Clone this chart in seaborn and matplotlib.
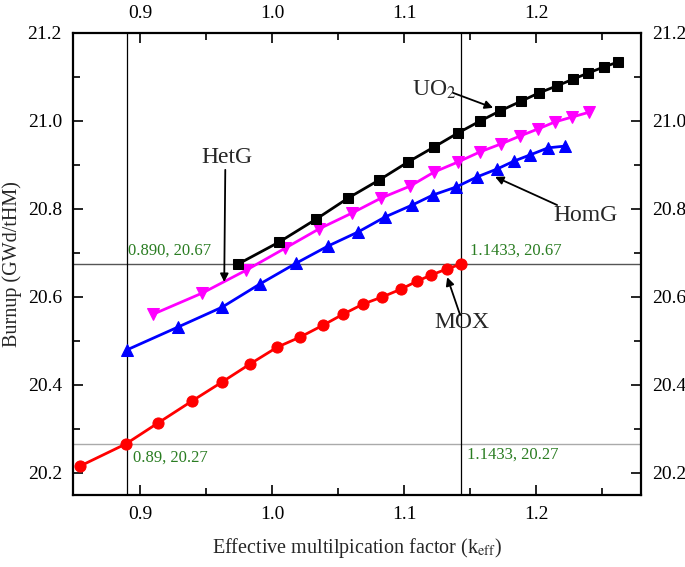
import matplotlib
matplotlib.use("Agg")
import matplotlib.pyplot as plt
import seaborn as sns

# ── Data ──────────────────────────────────────────────────────────────────────

mox_k = [0.8545, 0.889, 0.9136, 0.9394, 0.9621, 0.9833, 1.0038, 1.0212, 1.0386,
         1.0538, 1.0689, 1.0833, 1.0977, 1.1098, 1.1205, 1.1326, 1.1433]
mox_bu = [20.216, 20.266, 20.314, 20.364, 20.407, 20.448, 20.486, 20.509, 20.536,
          20.561, 20.584, 20.600, 20.618, 20.636, 20.650, 20.664, 20.675]

homg_k = [0.890, 0.9288, 0.9621, 0.9909, 1.0182, 1.0424, 1.0652, 1.0856, 1.1061,
          1.1220, 1.1394, 1.1553, 1.1705, 1.1833, 1.1955, 1.2091, 1.2220]
homg_bu = [20.480, 20.532, 20.577, 20.630, 20.677, 20.716, 20.748, 20.782, 20.809,
           20.832, 20.850, 20.873, 20.891, 20.909, 20.923, 20.939, 20.943]

hetg_k = [0.9098, 0.9470, 0.9803, 1.0098, 1.0356, 1.0606, 1.0826, 1.1045, 1.1227,
          1.1409, 1.1576, 1.1735, 1.1879, 1.2015, 1.2144, 1.2273, 1.2402]
hetg_bu = [20.561, 20.609, 20.661, 20.711, 20.755, 20.791, 20.825, 20.852, 20.884,
           20.907, 20.930, 20.948, 20.966, 20.982, 20.998, 21.009, 21.020]

uo2_k = [0.9742, 1.0053, 1.0333, 1.0576, 1.0811, 1.1030, 1.1227, 1.1409, 1.1576,
         1.1727, 1.1886, 1.2023, 1.2159, 1.2280, 1.2394, 1.2515, 1.2621]
uo2_bu = [20.675, 20.725, 20.777, 20.825, 20.866, 20.907, 20.941, 20.973, 21.000,
          21.023, 21.045, 21.064, 21.080, 21.095, 21.109, 21.123, 21.134]

# reference lines
k_marks = [0.89, 1.1433]
bu_marks = [20.675, 20.265]

# ── Style ─────────────────────────────────────────────────────────────────────

sns.set_theme(style="ticks")
plt.rcParams["font.family"] = ["Liberation Serif", "DejaVu Serif"]
plt.rcParams["mathtext.fontset"] = "stix"

fig = plt.figure(figsize=(6.85, 5.67), dpi=100)
ax = fig.add_axes([0.1066, 0.127, 0.8292, 0.8148])

# ── Reference lines ───────────────────────────────────────────────────────────

ax.axhline(bu_marks[0], color="#555555", lw=1.0, zorder=1)
ax.axhline(bu_marks[1], color="#aaaaaa", lw=1.0, zorder=1)
for k in k_marks:
    ax.axvline(k, color="black", lw=0.9, zorder=1)

# ── Series ────────────────────────────────────────────────────────────────────

series = [
    (mox_k, mox_bu, "red", "o", 8),
    (homg_k, homg_bu, "blue", "^", 8),
    (hetg_k, hetg_bu, "magenta", "v", 8),
    (uo2_k, uo2_bu, "black", "s", 7),
]
for k, bu, col, mk, ms in series:
    sns.lineplot(x=k, y=bu, ax=ax, color=col, lw=2, marker=mk,
                 markersize=ms, markeredgecolor=col, zorder=3)

# ── Axes ──────────────────────────────────────────────────────────────────────

ax.set_xlim(0.849, 1.2795)
ax.set_ylim(20.15, 21.2)
ax.set_xticks([0.9, 1.0, 1.1, 1.2])
ax.set_xticks([0.95, 1.05, 1.15, 1.25], minor=True)
ax.set_yticks([20.2, 20.4, 20.6, 20.8, 21.0, 21.2])
ax.set_yticks([20.3, 20.5, 20.7, 20.9, 21.1], minor=True)
ax.xaxis.set_major_formatter(matplotlib.ticker.FormatStrFormatter("%.1f"))
ax.yaxis.set_major_formatter(matplotlib.ticker.FormatStrFormatter("%.1f"))

ax.tick_params(which="both", direction="in", top=True, right=True,
               labeltop=True, labelright=True, labelsize=14,
               color="black", labelcolor="black", width=1.2)
ax.tick_params(which="major", length=7, pad=8)
ax.tick_params(which="minor", length=5)
for s in ax.spines.values():
    s.set_linewidth(1.6)
    s.set_color("black")

ax.set_xlabel("Effective multilpication factor (k$_{\\mathrm{eff}}$)", fontsize=14.5, labelpad=9)
ax.set_ylabel("Burnup (GWd/tHM)", fontsize=14.5, labelpad=4)

# ── Annotations ───────────────────────────────────────────────────────────────

green = "#2a7d22"
ax.text(0.8905, 20.688, "0.890, 20.67", color=green, fontsize=12, va="bottom")
ax.text(0.8945, 20.234, "0.89, 20.27", color=green, fontsize=12, va="center")
ax.text(1.1495, 20.688, "1.1433, 20.67", color=green, fontsize=12, va="bottom")
ax.text(1.1475, 20.241, "1.1433, 20.27", color=green, fontsize=12, va="center")

arrow = dict(arrowstyle="-|>", color="black", lw=1.3, shrinkA=0, shrinkB=0,
             mutation_scale=12)
ax.text(1.1227, 21.070, "UO$_2$", fontsize=17, ha="center", va="center")
ax.annotate("", xy=(1.1674, 21.030), xytext=(1.137, 21.064), arrowprops=arrow)

ax.text(0.9659, 20.918, "HetG", fontsize=17, ha="center", va="center")
ax.annotate("", xy=(0.9636, 20.634), xytext=(0.9644, 20.889), arrowprops=arrow)

ax.text(1.2371, 20.786, "HomG", fontsize=17, ha="center", va="center")
ax.annotate("", xy=(1.1689, 20.873), xytext=(1.2159, 20.809), arrowprops=arrow)

ax.text(1.1439, 20.541, "MOX", fontsize=17, ha="center", va="center")
ax.annotate("", xy=(1.1326, 20.645), xytext=(1.1424, 20.559), arrowprops=arrow)

fig.savefig("out.png", dpi=100)
